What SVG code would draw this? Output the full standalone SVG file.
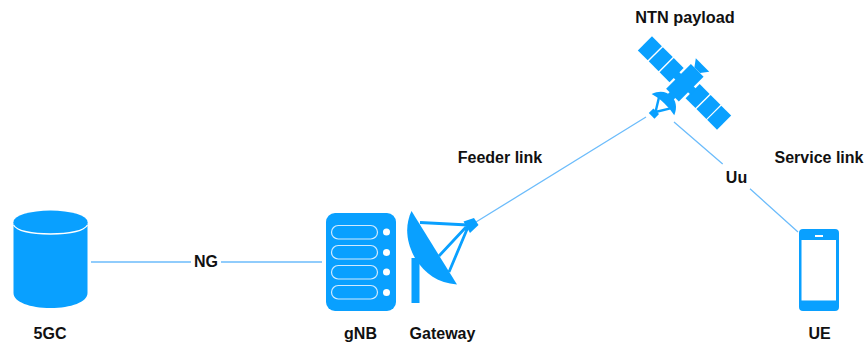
<svg xmlns="http://www.w3.org/2000/svg" width="866" height="346" viewBox="0 0 866 346">
<style>
text{font-family:"Liberation Sans",Arial,sans-serif;font-weight:700;font-size:16px;fill:#111;text-anchor:middle}
.f{fill:#09a0ff}
.s{stroke:#09a0ff;fill:none}
.l{stroke:#6cbcfb;stroke-width:1.300;fill:none}
.w{fill:none;stroke:#cfeaff;stroke-width:1.200}
.d{fill:#fff}
</style>
<rect width="866" height="346" fill="#fff"/>
<g id="connectors">
<path class="l" d="M91 262H191M221 262H322"/>
<path class="l" d="M476 222L646 117"/>
<path class="l" d="M674 122L722.700 164M750 188.700L798 232"/>
</g>
<g id="core">
<path class="f" d="M13.500 222V293C13.500 302 30 308 50.500 308S87.500 302 87.500 293V222Z"/>
<ellipse cx="50.500" cy="222" rx="37" ry="11.500" class="f"/>
<path d="M13.500 225C17 231 32 234 50.500 234S84 231 87.500 225" fill="none" stroke="#fff" stroke-width="1.300"/>
<text x="50" y="339">5GC</text>
</g>
<g id="gnb">
<rect class="f" x="326" y="213" width="70" height="98" rx="9"/>
<rect class="w" x="331.500" y="225.500" width="46" height="13.500" rx="6.700"/>
<rect class="w" x="331.500" y="245.500" width="46" height="13.500" rx="6.700"/>
<rect class="w" x="331.500" y="265.500" width="46" height="13.500" rx="6.700"/>
<rect class="w" x="331.500" y="285.500" width="46" height="13.500" rx="6.700"/>
<circle class="d" cx="386.500" cy="232" r="3.500"/>
<circle class="d" cx="386.500" cy="252.500" r="3.500"/>
<circle class="d" cx="386.500" cy="272" r="3.500"/>
<circle class="d" cx="386.500" cy="292.500" r="3.500"/>
<text x="360.500" y="339">gNB</text>
</g>
<g id="gateway">
<path class="f" d="M411.500 211L457 284.500C438 283 425 274 415 258C407 244 404 227 411.500 211Z"/>
<rect class="f" x="411.500" y="258" width="8" height="45"/>
<path class="s" stroke-width="2.800" d="M420 222.500L468 225M439 256L467 226M449 272L468 227"/>
<path class="f" d="M463.500 221.500L474 218L478.500 225L470 233Z"/>
<text x="442.500" y="339">Gateway</text>
</g>
<g id="ntn">
<g transform="translate(684.500 83) rotate(45)">
<rect class="f" x="-56" y="-10" width="14" height="20"/>
<rect class="f" x="-40.600" y="-10" width="14" height="20"/>
<rect class="f" x="-25.200" y="-10" width="14" height="20"/>
<rect class="f" x="11.500" y="-10" width="14" height="20"/>
<rect class="f" x="26.900" y="-10" width="14" height="20"/>
<rect class="f" x="42" y="-10" width="14" height="20"/>
<rect class="f" x="-13" y="-4" width="26" height="8"/>
<rect class="f" x="-9" y="-18" width="18" height="35"/>
<path class="f" d="M-4 -18L-9.500 -25.500H9.500L4 -18Z"/>
<rect class="f" x="-4" y="15" width="8" height="7"/>
<path class="f" d="M-15.500 31C-12.500 22 -6 18.500 0 18.500S12.500 22 15.500 30C6 28 -6 28 -15.500 31Z"/>
<path class="s" stroke-width="2.400" d="M-8 28L0 41M8 28L0 41"/>
<rect class="f" x="-4" y="40" width="8" height="6.500"/>
</g>
<text x="685" y="23" style="font-size:16.300px">NTN payload</text>
</g>
<g id="ue">
<path class="f" fill-rule="evenodd" d="M803 229H835Q839 229 839 233V307Q839 311 835 311H803Q799 311 799 307V233Q799 229 803 229ZM801.500 240V300.500H836V240ZM815 235V237H823V235Z"/>
<text x="819.500" y="339">UE</text>
</g>
<text x="206" y="267">NG</text>
<text x="500" y="163">Feeder link</text>
<text x="736.500" y="182.500">Uu</text>
<text x="819" y="163">Service link</text>
</svg>
